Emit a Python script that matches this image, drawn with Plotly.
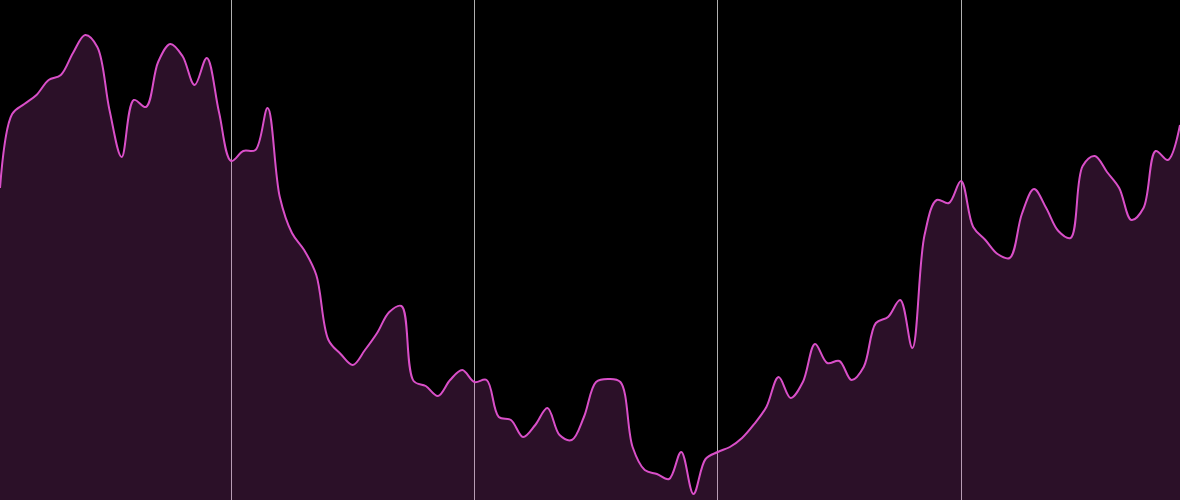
import plotly.graph_objects as go

# pixel-height readings converted to values (0 = bottom, 500 = top)
x_vals = list(range(1, 99))
y_pix = [188, 114, 104, 95, 80, 75, 53, 35, 47, 110,
         157, 100, 107, 62, 44, 56, 85, 58, 112, 161,
         151, 150, 108, 197, 233, 250, 275, 340, 354, 365,
         350, 333, 312, 306, 381, 386, 396, 380, 370, 382,
         380, 417, 420, 437, 425, 408, 435, 440, 417, 382,
         379, 382, 447, 470, 474, 479, 452, 494, 459, 452,
         447, 438, 424, 407, 377, 398, 382, 344, 363, 361,
         380, 367, 323, 317, 300, 348, 235, 200, 203, 181,
         227, 240, 254, 258, 214, 189, 208, 231, 238, 166,
         156, 172, 188, 220, 208, 151, 160, 125]
values = [500 - p for p in y_pix]
grid_ticks = [20, 40, 60, 80]

fig = go.Figure()
fig.add_trace(go.Scatter(
    x=x_vals, y=values, mode="lines",
    line=dict(color="#d94fc8", width=2, shape="spline", smoothing=1),
    fill="tozeroy", fillcolor="rgba(217,79,200,0.2)",
    hoverinfo="skip", showlegend=False,
))
fig.update_layout(
    width=1180, height=500,
    margin=dict(l=0, r=0, t=0, b=0),
    paper_bgcolor="#000000", plot_bgcolor="#000000",
    xaxis=dict(range=[1, 98], tickvals=grid_ticks, showticklabels=False,
               showgrid=True, gridcolor="#b0b0b0", gridwidth=1, zeroline=False,
               showline=False),
    yaxis=dict(range=[0, 500], showticklabels=False, showgrid=False,
               zeroline=False, showline=False),
)
fig.write_html("out.html")
